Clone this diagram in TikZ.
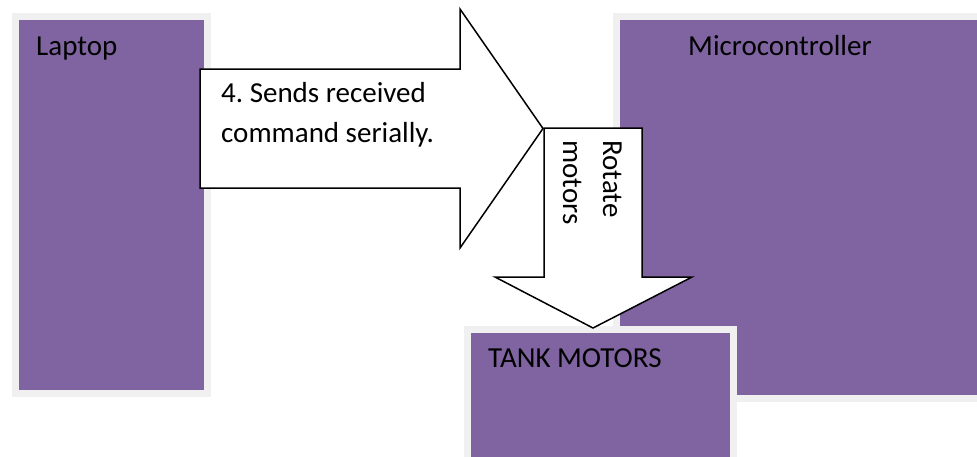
\documentclass[tikz,border=0pt]{standalone}
\usepackage{fontspec}
\setmainfont{Carlito}
\frenchspacing
\definecolor{blockpurple}{HTML}{8064A2}
\definecolor{blockframe}{HTML}{F0F0F0}
\begin{document}
\begin{tikzpicture}[x=1pt,y=-1pt,
  block/.style={fill=blockpurple, draw=blockframe, line width=7pt,
    inner sep=0pt, anchor=north west},
  lbl/.style={inner sep=0pt, anchor=base west,
    font=\fontsize{29}{40}\selectfont},
  blockarrow/.style={fill=white, draw=black, line width=1.5pt, line join=miter}]
\useasboundingbox (0,0) rectangle (977,456);

% purple blocks with light frames
\node[block, minimum width=192pt, minimum height=377.5pt] (laptop) at (11.5,12.5) {};
\node[block, minimum width=380pt, minimum height=382pt] (micro) at (612.5,12.5) {};
\node[block, minimum width=266pt, minimum height=160pt] (tank) at (463.5,325.5) {};

\node[lbl] (laptoplbl) at (36,55) {Laptop};
\node[lbl] (microlbl) at (688,55) {Microcontroller};
\node[lbl] (tanklbl) at (488,367) {TANK MOTORS};

% block arrow: laptop -> microcontroller
\coordinate (sendtip) at (543,128.5);
\draw[blockarrow] (200,69) -- (460,69) -- (460,9) -- (sendtip)
  -- (460,248) -- (460,188) -- (200,188) -- cycle;
\node[lbl] (sendlbl) at (221,102)
  {\begin{tabular}[t]{@{}l@{}}4. Sends received\\command serially.\end{tabular}};

% block arrow: microcontroller -> tank motors
\coordinate (rotatetip) at (593,328);
\draw[blockarrow] (544,128) -- (642,128) -- (642,277) -- (692,277)
  -- (rotatetip) -- (495,277) -- (544,277) -- cycle;
\node[lbl, rotate=-90] (rotatelbl) at (603,140)
  {\begin{tabular}[t]{@{}l@{}}Rotate\\motors\end{tabular}};
\end{tikzpicture}
\end{document}
